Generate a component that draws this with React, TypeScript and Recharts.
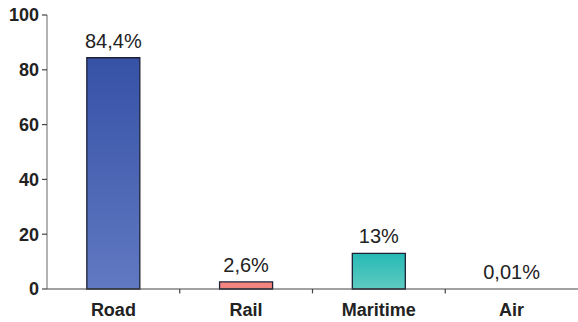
import { BarChart, Bar, XAxis, YAxis, Cell, LabelList, ReferenceLine } from 'recharts';

const modes = ['Road', 'Rail', 'Maritime', 'Air'];
const shares = [84.4, 2.6, 13, 0.01];
const yTicks = [0, 20, 40, 60, 80, 100];
const fills = ['url(#roadFill)', '#f5857f', 'url(#seaFill)', '#9aa6c8'];

const data = modes.map((mode, i) => ({ mode, share: shares[i] }));

const FONT = '"Liberation Sans", Arial, Helvetica, sans-serif';

// 84.4 -> "84,4%"
const formatShare = (v: any) => String(v).replace('.', ',') + '%';

export default function App() {
  return (
    <div style={{ position: 'absolute', left: 0, top: 0, background: '#fff', fontFamily: FONT }}>
      <BarChart
        width={578}
        height={322}
        data={data}
        margin={{ top: 15, right: 0, left: 0, bottom: 0 }}
        barCategoryGap="30%"
      >
        <defs>
          <linearGradient id="roadFill" x1="0" y1="0" x2="0" y2="1">
            <stop offset="0%" stopColor="#3652a6" />
            <stop offset="100%" stopColor="#6179c2" />
          </linearGradient>
          <linearGradient id="seaFill" x1="0" y1="0" x2="0" y2="1">
            <stop offset="0%" stopColor="#26b9b5" />
            <stop offset="100%" stopColor="#5fcbc1" />
          </linearGradient>
        </defs>
        <XAxis
          dataKey="mode"
          height={33}
          interval={0}
          tickLine={false}
          tickSize={6}
          tickMargin={8}
          axisLine={{ stroke: '#444', strokeWidth: 1.2 }}
          tick={{ fill: '#222', fontSize: 18, fontWeight: 700, fontFamily: FONT }}
        />
        <YAxis
          width={47}
          domain={[0, 100]}
          ticks={yTicks}
          interval={0}
          tickSize={5}
          tickMargin={3}
          axisLine={{ stroke: '#666', strokeWidth: 1 }}
          tickLine={{ stroke: '#444', strokeWidth: 1.2 }}
          tick={{ fill: '#222', fontSize: 18, fontWeight: 700, fontFamily: FONT }}
        />
        {/* small ticks between categories, below the axis */}
        {modes.slice(1).map((m) => (
          <ReferenceLine
            key={m}
            segment={[{ x: m, y: 0 }, { x: m, y: -1.6 }]}
            position="start"
            ifOverflow="visible"
            stroke="#444"
            strokeWidth={1.2}
          />
        ))}
        <Bar dataKey="share" isAnimationActive={false} stroke="#1d2136" strokeWidth={1.3}>
          {data.map((d, i) => (
            <Cell key={d.mode} fill={fills[i]} stroke={d.share < 0.1 ? 'none' : '#1d2136'} />
          ))}
          <LabelList
            dataKey="share"
            position="top"
            offset={10}
            formatter={formatShare}
            fill="#222"
            fontSize={20}
            fontFamily={FONT}
          />
        </Bar>
      </BarChart>
    </div>
  );
}
